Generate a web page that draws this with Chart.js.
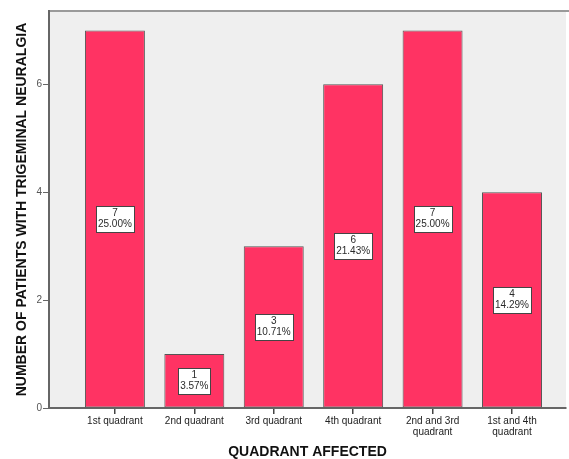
<!DOCTYPE html>
<html>
<head>
<meta charset="utf-8">
<script src="https://cdn.jsdelivr.net/npm/chart.js@4/dist/chart.umd.min.js"></script>
<style>
  html, body { margin: 0; padding: 0; background: #fff; }
  #wrap { width: 569px; height: 459px; }
</style>
</head>
<body>
<div id="wrap"><canvas id="barChart" width="569" height="459"></canvas></div>
<script>
const categories = [
  "1st quadrant",
  "2nd quadrant",
  "3rd quadrant",
  "4th quadrant",
  ["2nd and 3rd", "quadrant"],
  ["1st and 4th", "quadrant"]
];
const patients = [7, 1, 3, 6, 7, 4];
const yTicks = [0, 2, 4, 6];

const total = patients.reduce((a, b) => a + b, 0);
const FONT = "'Liberation Sans', Arial, sans-serif";

// grey plot panel + top frame line
const panelBg = {
  id: "panelBg",
  beforeDraw(chart) {
    const { ctx, chartArea: a } = chart;
    ctx.save();
    ctx.fillStyle = "#efefef";
    ctx.fillRect(a.left, a.top, a.right - a.left, a.bottom - a.top);
    ctx.strokeStyle = "#9a9a9a";
    ctx.lineWidth = 2;
    ctx.beginPath();
    ctx.moveTo(a.left, a.top);
    ctx.lineTo(chart.width, a.top);
    ctx.stroke();
    ctx.restore();
  }
};

// count / percent boxes in the middle of each bar
const barLabels = {
  id: "barLabels",
  afterDatasetsDraw(chart) {
    const { ctx } = chart;
    const meta = chart.getDatasetMeta(0);
    ctx.save();
    ctx.font = "10px " + FONT;
    ctx.textAlign = "center";
    ctx.textBaseline = "middle";
    meta.data.forEach((bar, i) => {
      const v = patients[i];
      const lines = [String(v), (v / total * 100).toFixed(2) + "%"];
      const w = Math.round(Math.max(...lines.map(t => ctx.measureText(t).width)) + 4);
      const h = 26;
      const cx = bar.x;
      const cy = (bar.y + bar.base) / 2;
      const bx = Math.round(cx - w / 2) + 0.5;
      const by = Math.round(cy - h / 2) + 0.5;
      ctx.fillStyle = "#ffffff";
      ctx.fillRect(bx, by, w, h);
      ctx.strokeStyle = "#444";
      ctx.lineWidth = 1;
      ctx.strokeRect(bx, by, w, h);
      ctx.fillStyle = "#2a2a2a";
      ctx.fillText(lines[0], cx, cy - 5.5);
      ctx.fillText(lines[1], cx, cy + 5.5);
    });
    ctx.restore();
  }
};

const ctx = document.getElementById("barChart").getContext("2d");
new Chart(ctx, {
  type: "bar",
  data: {
    datasets: [{
      data: patients.map((v, i) => ({ x: i, y: v })),
      backgroundColor: "#ff3363",
      borderColor: "#555",
      borderWidth: 1,
      borderSkipped: false,
      categoryPercentage: 1,
      barPercentage: 0.755
    }]
  },
  options: {
    responsive: false,
    animation: false,
    layout: { padding: { top: 11, right: 3 } },
    plugins: { legend: { display: false }, tooltip: { enabled: false } },
    scales: {
      x: {
        type: "linear",
        offset: false,
        min: -0.83,
        max: 5.68,
        afterBuildTicks: axis => { axis.ticks = categories.map((_, i) => ({ value: i })); },
        afterFit: axis => { axis.height = 51; },
        ticks: {
          color: "#222",
          font: { size: 10, family: FONT, lineHeight: 1.05 },
          padding: 2,
          maxRotation: 0,
          autoSkip: false,
          callback: v => categories[v]
        },
        grid: { offset: false, drawOnChartArea: false, drawTicks: true, tickLength: 6, color: "#444", lineWidth: 1.5 },
        border: { display: true, color: "#666", width: 2 },
        title: {
          display: true,
          text: "QUADRANT AFFECTED",
          color: "#111",
          font: { size: 14, weight: "bold", family: FONT, lineHeight: 1 },
          padding: { top: 0, bottom: 0 }
        }
      },
      y: {
        min: 0,
        max: 7.36,
        afterBuildTicks: axis => { axis.ticks = yTicks.map(v => ({ value: v })); },
        afterFit: axis => { axis.width = 49; },
        ticks: { color: "#555", font: { size: 10, family: FONT }, padding: 1 },
        grid: { drawOnChartArea: false, drawTicks: true, tickLength: 6, color: "#666" },
        border: { display: true, color: "#666", width: 2 },
        title: {
          display: true,
          text: "NUMBER OF PATIENTS WITH TRIGEMINAL NEURALGIA",
          color: "#111",
          font: { size: 14, weight: "bold", family: FONT, lineHeight: 1 },
          padding: { top: 15, bottom: 0 }
        }
      }
    }
  },
  plugins: [panelBg, barLabels]
});
</script>
</body>
</html>
